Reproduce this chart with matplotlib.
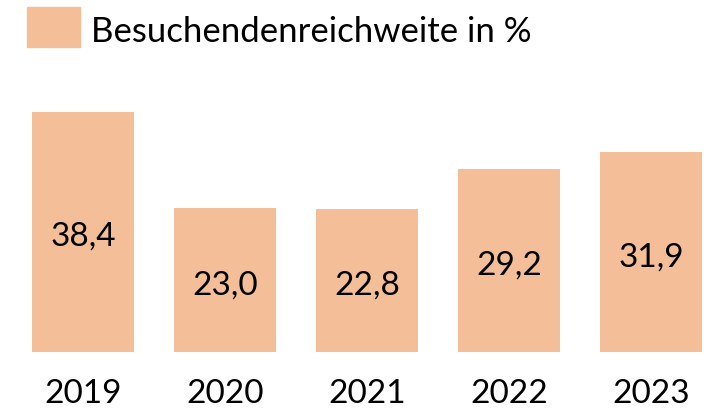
import matplotlib
matplotlib.use("Agg")
import matplotlib.pyplot as plt
from matplotlib.patches import Rectangle

years = ["2019", "2020", "2021", "2022", "2023"]
values = [38.4, 23.0, 22.8, 29.2, 31.9]
value_labels = ["38,4", "23,0", "22,8", "29,2", "31,9"]
series_name = "Besuchendenreichweite in %"

color = "#F3BE98"
plt.rcParams["font.family"] = ["Lato", "DejaVu Sans"]

W, H = 718, 409
fig = plt.figure(figsize=(W / 100, H / 100), dpi=100)

base_px = 352.3          # y (from top) of the zero line
ppu = 6.27               # pixels per data unit
ax = fig.add_axes([0, (H - base_px) / H, 1, base_px / H])
ax.set_xlim((0 - 83.3) / 142, (W - 83.3) / 142)
ax.set_ylim(0, base_px / ppu)
ax.axis("off")

x = list(range(len(years)))
ax.bar(x, values, width=102 / 142, color=color, edgecolor="none")

for xi, v, lab in zip(x, values, value_labels):
    ax.annotate(lab, (xi, v / 2), xytext=(0, -2), textcoords="offset pixels",
                ha="center", va="center_baseline", fontsize=24, color="black")

for xi, yr in zip(x, years):
    ax.annotate(yr, (xi, 0), xytext=(0, -(403 - base_px)), textcoords="offset pixels",
                ha="center", va="baseline", fontsize=24, color="black",
                annotation_clip=False)

# legend
fig.patches.append(Rectangle((27 / W, 1 - 47 / H), 53 / W, 40 / H,
                             transform=fig.transFigure, color=color))
fig.text(91 / W, 1 - 42 / H, series_name, ha="left", va="baseline",
         fontsize=25, color="black")

fig.savefig("out.png", dpi=100)
